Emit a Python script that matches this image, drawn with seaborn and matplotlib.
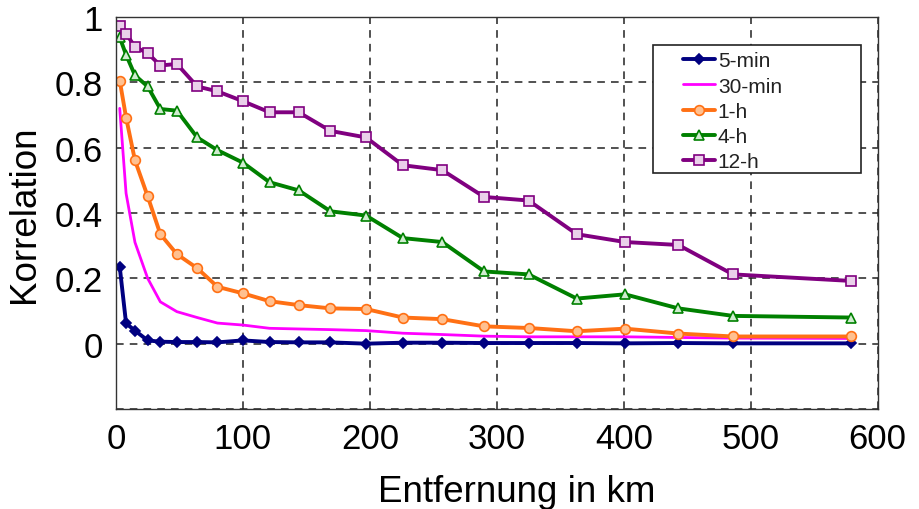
import numpy as np
import pandas as pd
import matplotlib
matplotlib.use("Agg")
import matplotlib.pyplot as plt
from matplotlib.patches import Rectangle
from matplotlib.ticker import MultipleLocator, FixedLocator, FixedFormatter
import seaborn as sns

# Daten
entfernung = [3, 8, 15, 25, 35, 48, 64, 80, 100, 121, 144, 169, 197, 226,
              257, 290, 325, 363, 401, 443, 486, 579]

r_5min = [0.235, 0.062, 0.040, 0.010, 0.006, 0.005, 0.005, 0.004, 0.010,
          0.005, 0.004, 0.004, 0.000, 0.003, 0.003, 0.002, 0.002, 0.002,
          0.001, 0.002, 0.001, 0.001]
r_30min = [0.72, 0.46, 0.31, 0.20, 0.128, 0.098, 0.080, 0.063, 0.057, 0.047,
           0.045, 0.043, 0.040, 0.032, 0.028, 0.023, 0.021, 0.021, 0.021,
           0.019, 0.017, 0.016]
r_1h = [0.805, 0.692, 0.561, 0.451, 0.335, 0.274, 0.231, 0.174, 0.154, 0.130,
        0.118, 0.108, 0.106, 0.080, 0.075, 0.053, 0.048, 0.038, 0.046, 0.031,
        0.022, 0.022]
r_4h = [0.937, 0.884, 0.821, 0.787, 0.718, 0.713, 0.631, 0.592, 0.554, 0.494,
        0.469, 0.405, 0.392, 0.323, 0.311, 0.221, 0.212, 0.138, 0.151, 0.108,
        0.085, 0.080]
r_12h = [0.971, 0.949, 0.908, 0.889, 0.851, 0.856, 0.787, 0.772, 0.742, 0.708,
         0.708, 0.651, 0.631, 0.546, 0.531, 0.449, 0.438, 0.335, 0.311, 0.302,
         0.212, 0.192]

labels = ['5-min', '30-min', '1-h', '4-h', '12-h']
werte = [r_5min, r_30min, r_1h, r_4h, r_12h]

sns.set_style("white")
plt.rcParams['font.family'] = ['Liberation Sans', 'DejaVu Sans']

fig = plt.figure(figsize=(9.2, 5.1), dpi=100)
ax = fig.add_axes([0.126, 0.196, 0.828, 0.769])

stile = {
    '5-min': dict(color='#000080', marker='D', markersize=5,
                  markerfacecolor='#000080', markeredgecolor='#000080'),
    '30-min': dict(color='#ff00ff', marker=None, linewidth=2.0),
    '1-h': dict(color='#ff7014', marker='o', markersize=7,
                markerfacecolor='#ffc090', markeredgecolor='#ff7014'),
    '4-h': dict(color='#008000', marker='^', markersize=7,
                markerfacecolor='#d0ecd0', markeredgecolor='#008000'),
    '12-h': dict(color='#800080', marker='s', markersize=7,
                 markerfacecolor='#ead0ea', markeredgecolor='#800080'),
}

for lab, y in zip(labels, werte):
    kw = dict(stile[lab])
    lw = kw.pop('linewidth', 2.8)
    sns.lineplot(x=entfernung, y=y, ax=ax, label=lab, linewidth=lw,
                 markeredgewidth=1.2, **kw)

ax.set_xlim(0, 600)
ax.set_ylim(-0.2, 1.0)

ax.xaxis.set_major_locator(MultipleLocator(100))
ax.xaxis.set_minor_locator(MultipleLocator(20))
ax.yaxis.set_major_locator(FixedLocator([-0.2, 0, 0.2, 0.4, 0.6, 0.8, 1.0]))
ax.yaxis.set_major_formatter(FixedFormatter(['', '0', '0.2', '0.4', '0.6', '0.8', '1']))
ax.yaxis.set_minor_locator(MultipleLocator(0.1))

ax.tick_params(which='major', direction='inout', length=9, width=1,
               color='#222222', labelsize=25, labelcolor='black', pad=5)
ax.tick_params(which='minor', direction='out', length=4, width=1,
               color='#222222')

ax.grid(True, which='major', linestyle=(0, (5, 4)), color='#222222',
        linewidth=1.1)
for s in ax.spines.values():
    s.set_color('#333333')
    s.set_linewidth(1.0)

ax.set_xlabel('Entfernung in km', fontsize=26.5, color='black')
ax.xaxis.set_label_coords(0.526, -0.166)
ax.set_ylabel('Korrelation', fontsize=26.5, labelpad=9, color='black')

# Legendenrahmen separat, damit er breiter ist als die Eintraege
ax.add_patch(Rectangle((0.705, 0.602), 0.273, 0.327, transform=ax.transAxes,
                       facecolor='white', edgecolor='#222222', linewidth=1.2,
                       zorder=4))
leg = ax.legend(loc='upper left', bbox_to_anchor=(0.745, 0.912),
                borderaxespad=0, fontsize=15, frameon=False,
                handlelength=1.5, handletextpad=0.15,
                labelspacing=0.3, borderpad=0)
leg.set_zorder(5)
for t in leg.get_texts():
    t.set_color('#222222')

fig.savefig('out.png', dpi=100)
